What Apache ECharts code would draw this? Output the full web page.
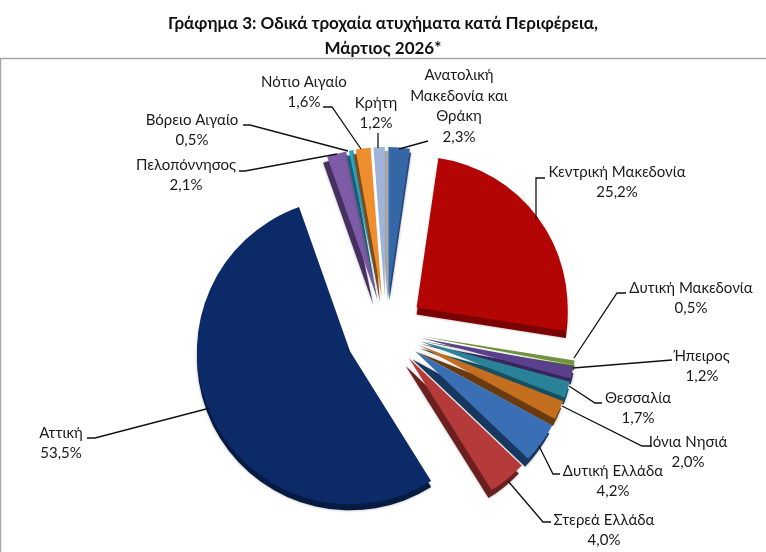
<!DOCTYPE html>
<html>
<head>
<meta charset="utf-8">
<style>html,body{margin:0;padding:0;background:#fff}#chart{width:766px;height:552px}</style>
<script src="https://cdn.jsdelivr.net/npm/echarts@6/dist/echarts.min.js"></script>
</head>
<body>
<div id="chart"></div>
<script>
// Regions in clockwise order from twelve o'clock
const regions = ['Ανατολική\nΜακεδονία και\nΘράκη', 'Κεντρική Μακεδονία', 'Δυτική Μακεδονία', 'Ήπειρος', 'Θεσσαλία', 'Ιόνια Νησιά', 'Δυτική Ελλάδα', 'Στερεά Ελλάδα', 'Αττική', 'Πελοπόννησος', 'Βόρειο Αιγαίο', 'Νότιο Αιγαίο', 'Κρήτη'];
const shares = [2.3, 25.2, 0.5, 1.2, 1.7, 2.0, 4.2, 4.0, 53.5, 2.1, 0.5, 1.6, 1.2];

// Slice faces and the darker side walls that give the pie its thickness
const faceColors = ['#3566A6', '#B40505', '#6E9440', '#5A3F8C', '#2A8299', '#C46E20', '#3B6FB5', '#B53A3A', '#0C2A68', '#7D5BA6', '#2FA6C6', '#EF8E2F', '#9FB4D8'];
const sideColors = ['#24477A', '#7A0404', '#47602A', '#37265A', '#174F60', '#6B3B10', '#17375F', '#6B1F1F', '#071A42', '#45305F', '#175E72', '#7F4A16', '#A6A6A6'];

// Distance each slice is pulled out of the pie, its radius, a vertical nudge and the side wall's shift
const explode = [33, 38, 36, 36, 36, 36, 36, 36, 40, 33, 33, 33, 33];
const radii = [150, 151, 155, 155, 155, 155, 156, 156, 153, 150, 150, 150, 150];
const nudgeY = [0, 0, 0, 0, 0, 0, 0, 0, 4, 0, 0, 0, 0];
const sideShiftX = [1, 0, 0, 0, -1, -2, -3, -3, 0, -4, -2, -2, 3];
const sideShiftY = [4, 7, 5, 6, 7, 7, 8, 8, 6, 6, 5, 5, 4];

// Drawing order: rear slices first so nearer side walls lie over them
const drawOrder = [8, 9, 10, 11, 12, 0, 1, 2, 3, 4, 5, 6, 7];

// Label centres and leader polylines, same order as regions
const labelCentres = [[459, 106], [617, 182], [691, 298], [702, 366], [638, 408], [688, 452], [613, 481], [604, 530], [61, 443], [186, 175], [192, 130], [304, 92], [376, 113]];
const leaders = [
  [[428, 141], [399, 149]],
  [[545, 178], [536, 178], [536, 220]],
  [[626, 293], [617, 293], [574, 358]],
  [[672, 360], [573, 368]],
  [[602, 403], [595, 403], [569, 386]],
  [[652, 446], [642, 446], [562, 406]],
  [[560, 474], [553, 474], [539, 446]],
  [[551, 522], [543, 522], [508, 481]],
  [[87, 438], [95, 438], [210, 408]],
  [[239, 171], [245, 171], [337, 154]],
  [[243, 125], [250, 125], [348, 151]],
  [[323, 107], [332, 107], [361, 149]],
  [[378, 133], [378, 148]]
];

const pieCentre = [386, 330];
const labelRadius = 150;
const hidden = { color: 'rgba(0,0,0,0)', borderWidth: 0 };
const textFont = 'Lato, Roboto, "Noto Sans", sans-serif';

// One pie per slice: all values keep the angles right, only one slice is painted
function slicePie(k, colour, dx, dy, z, isSide) {
  const paint = { color: colour, borderWidth: 0 };
  if (isSide) {
    paint.shadowBlur = 3;
    paint.shadowColor = 'rgba(0,0,0,0.35)';
  }
  return {
    type: 'pie', silent: true, animation: false, z: z,
    center: [pieCentre[0] + dx, pieCentre[1] + nudgeY[k] + dy],
    radius: [0, radii[k]], startAngle: 90, clockwise: true,
    selectedMode: 'multiple', selectedOffset: explode[k],
    label: { show: false }, labelLine: { show: false },
    emphasis: { disabled: true },
    data: shares.map((v, i) => ({
      name: regions[i], value: v, selected: i === k,
      itemStyle: i === k ? paint : hidden
    }))
  };
}

const series = [];
drawOrder.forEach((k, n) => {
  series.push(slicePie(k, sideColors[k], sideShiftX[k], sideShiftY[k], 2 + n, true));
  series.push(slicePie(k, faceColors[k], 0, 0, 2 + n, false));
});

// Unpainted pie that carries the labels and their leader lines
series.push({
  type: 'pie', silent: true, animation: false, z: 30,
  center: pieCentre, radius: [0, labelRadius], startAngle: 90, clockwise: true,
  avoidLabelOverlap: false, emphasis: { disabled: true },
  itemStyle: hidden,
  label: {
    show: true, position: 'outside', color: '#1a1a1a',
    fontFamily: textFont, fontSize: 15, lineHeight: 20.5, align: 'center',
    formatter: p => p.name + '\n' + shares[p.dataIndex].toFixed(1).replace('.', ',') + '%'
  },
  labelLine: { show: true, lineStyle: { color: '#111', width: 1.3 } },
  labelLayout: p => ({
    x: labelCentres[p.dataIndex][0], y: labelCentres[p.dataIndex][1],
    align: 'center', verticalAlign: 'middle', hideOverlap: false,
    labelLinePoints: leaders[p.dataIndex]
  }),
  data: shares.map((v, i) => ({ name: regions[i], value: v }))
});

const chart = echarts.init(document.getElementById('chart'), null, { renderer: 'canvas' });
chart.setOption({
  backgroundColor: '#fff',
  title: {
    text: 'Γράφημα 3: Οδικά τροχαία ατυχήματα κατά Περιφέρεια,\nΜάρτιος 2026*',
    left: 'center', top: 6,
    textStyle: { fontFamily: textFont, fontWeight: 'bold', fontSize: 17, lineHeight: 25, color: '#111' }
  },
  graphic: [{
    type: 'rect', silent: true, z: 1,
    shape: { x: 0.5, y: 58.5, width: 900, height: 700 },
    style: { fill: 'none', stroke: '#a6a6a6', lineWidth: 1.5 }
  }],
  series: series
});
</script>
</body>
</html>
